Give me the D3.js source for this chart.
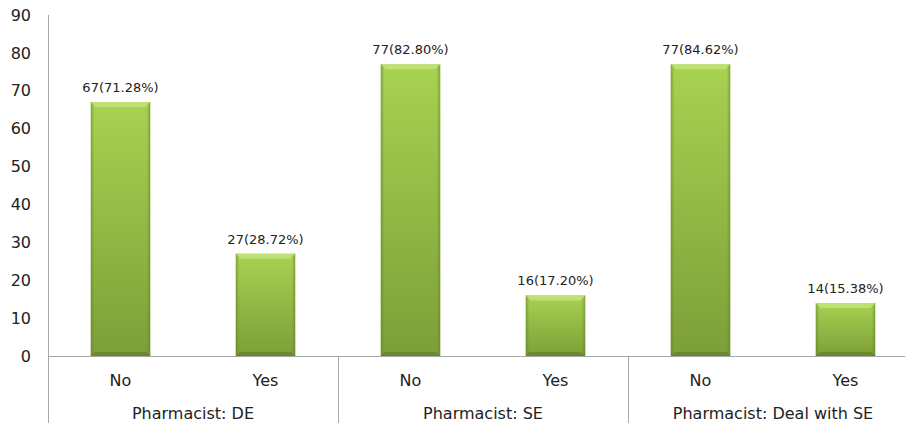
<!DOCTYPE html>
<html>
<head>
<meta charset="utf-8">
<script src="https://cdn.jsdelivr.net/npm/d3@7"></script>
<style>
  html, body { margin: 0; padding: 0; background: #fff; }
  svg { display: block; font-family: "DejaVu Sans", sans-serif; }
</style>
</head>
<body>
<svg id="chart" width="905" height="423"></svg>
<script>
// Survey responses grouped by question
const groups = ["Pharmacist: DE", "Pharmacist: SE", "Pharmacist: Deal with SE"];
const answers = ["No", "Yes"];
const counts = [67, 27, 77, 16, 77, 14];
const valueLabels = ["67(71.28%)", "27(28.72%)", "77(82.80%)", "16(17.20%)", "77(84.62%)", "14(15.38%)"];
const yTicks = [0, 10, 20, 30, 40, 50, 60, 70, 80, 90];

(function () {
const svg = d3.select("#chart");
const plotLeft = 48, plotRight = 918, plotTop = 15, base = 356, plotBottom = 423;

const cats = groups.flatMap((g, gi) => answers.map((a, ai) => ({ key: gi + "-" + ai, group: g, answer: a, i: gi * 2 + ai })));

const x = d3.scaleBand().domain(cats.map(c => c.key)).range([plotLeft, plotRight]).paddingInner(0.59).paddingOuter(0.295);
const y = d3.scaleLinear().domain([0, 90]).range([base, plotTop]);

// Bar fill gradients
const defs = svg.append("defs");
const vg = defs.append("linearGradient").attr("id", "barFill").attr("x1", 0).attr("y1", 0).attr("x2", 0).attr("y2", 1);
vg.append("stop").attr("offset", "0%").attr("stop-color", "#a8d251");
vg.append("stop").attr("offset", "100%").attr("stop-color", "#7c9f38");
const hg = defs.append("linearGradient").attr("id", "barSide").attr("x1", 0).attr("y1", 0).attr("x2", 1).attr("y2", 0);
hg.append("stop").attr("offset", "0%").attr("stop-color", "#5f7d27").attr("stop-opacity", 0.55);
hg.append("stop").attr("offset", "6%").attr("stop-color", "#5f7d27").attr("stop-opacity", 0);
hg.append("stop").attr("offset", "94%").attr("stop-color", "#5f7d27").attr("stop-opacity", 0);
hg.append("stop").attr("offset", "100%").attr("stop-color", "#5f7d27").attr("stop-opacity", 0.55);

// Y axis
const yAxis = svg.append("g").attr("transform", `translate(${plotLeft},0)`)
  .call(d3.axisLeft(y).tickValues(yTicks).tickSize(0).tickPadding(17));
yAxis.select(".domain").remove();
yAxis.selectAll("text").attr("font-size", 16).attr("fill", "#222").attr("font-family", "'DejaVu Sans', sans-serif");
svg.append("line").attr("x1", plotLeft + 0.5).attr("x2", plotLeft + 0.5).attr("y1", plotTop).attr("y2", plotBottom)
  .attr("stroke", "#a6a6a6").attr("stroke-width", 1);

// Bars
const bars = svg.append("g").selectAll("g").data(cats).join("g");
bars.append("rect")
  .attr("x", d => x(d.key)).attr("width", x.bandwidth())
  .attr("y", d => y(counts[d.i])).attr("height", d => base - y(counts[d.i]))
  .attr("fill", "url(#barFill)");
bars.append("rect")
  .attr("x", d => x(d.key)).attr("width", x.bandwidth())
  .attr("y", d => y(counts[d.i])).attr("height", d => base - y(counts[d.i]))
  .attr("fill", "url(#barSide)");
// top bevel
bars.append("path")
  .attr("d", d => {
    const x0 = x(d.key), x1 = x0 + x.bandwidth(), t = y(counts[d.i]), b = 5;
    return `M${x0},${t}L${x1},${t}L${x1 - b},${t + b}L${x0 + b},${t + b}Z`;
  })
  .attr("fill", "#c4e57a").attr("opacity", 0.8);
// bottom shade
bars.append("path")
  .attr("d", d => {
    const x0 = x(d.key), x1 = x0 + x.bandwidth(), b = 4;
    return `M${x0},${base}L${x1},${base}L${x1 - b},${base - b}L${x0 + b},${base - b}Z`;
  })
  .attr("fill", "#5e7c26").attr("opacity", 0.6);

// Value labels
svg.append("g").selectAll("text").data(cats).join("text")
  .attr("x", d => x(d.key) + x.bandwidth() / 2)
  .attr("y", d => y(counts[d.i]) - 10)
  .attr("text-anchor", "middle").attr("font-size", 13).attr("fill", "#222")
  .text(d => valueLabels[d.i]);

// Baseline
svg.append("line").attr("x1", plotLeft).attr("x2", 905).attr("y1", base + 0.5).attr("y2", base + 0.5)
  .attr("stroke", "#a6a6a6");

// Group separators
const step = x.step();
groups.forEach((g, gi) => {
  if (gi > 0) {
    const sx = plotLeft + gi * 2 * step;
    svg.append("line").attr("x1", sx + 0.5).attr("x2", sx + 0.5).attr("y1", base).attr("y2", plotBottom)
      .attr("stroke", "#a6a6a6");
  }
});

// Category labels
svg.append("g").selectAll("text").data(cats).join("text")
  .attr("x", d => x(d.key) + x.bandwidth() / 2)
  .attr("y", 386).attr("text-anchor", "middle").attr("font-size", 16).attr("fill", "#222")
  .text(d => d.answer);

svg.append("g").selectAll("text").data(groups).join("text")
  .attr("x", (g, gi) => plotLeft + (gi * 2 + 1) * step)
  .attr("y", 419).attr("text-anchor", "middle").attr("font-size", 16).attr("fill", "#222")
  .text(g => g);
})();
</script>
</body>
</html>
